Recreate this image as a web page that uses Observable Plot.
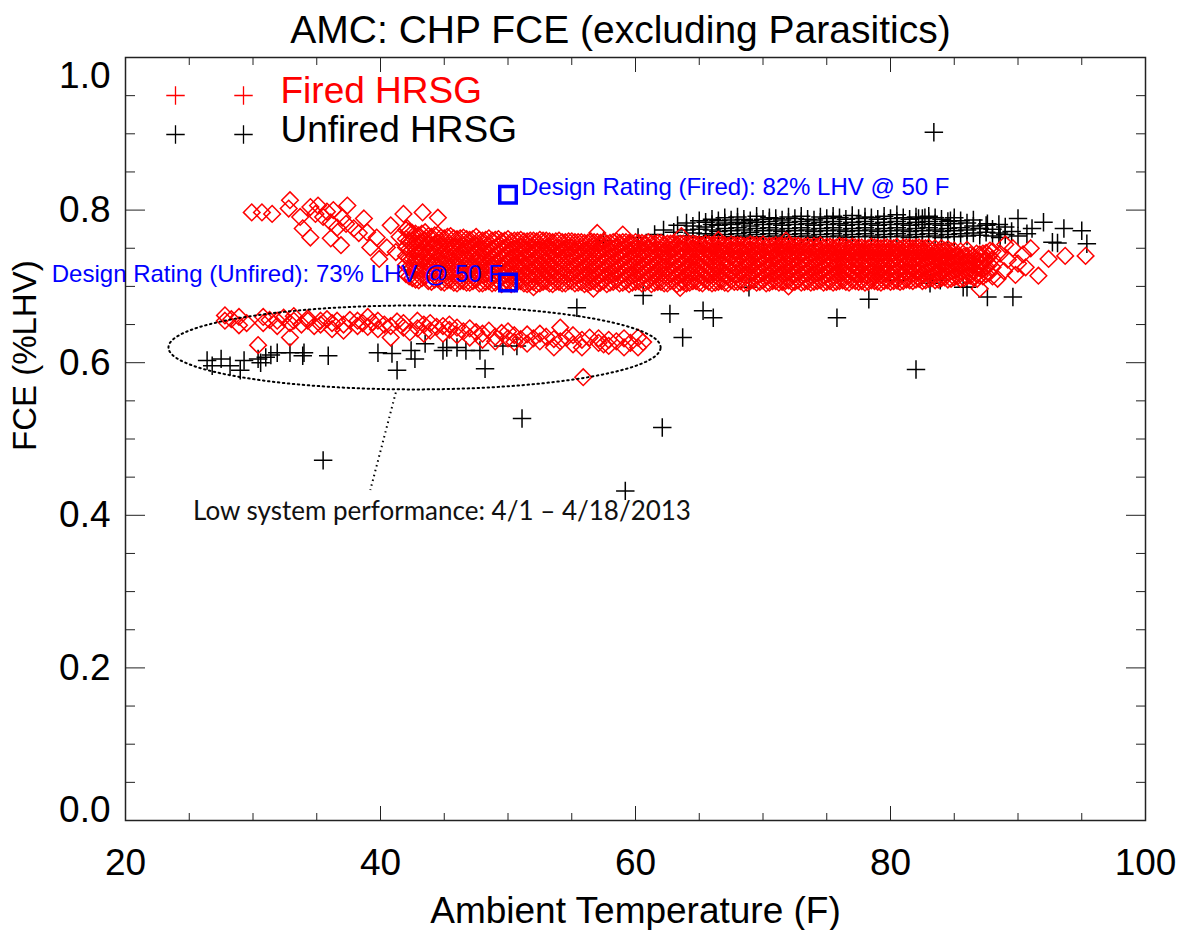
<!DOCTYPE html>
<html><head><meta charset="utf-8">
<script src="https://cdn.jsdelivr.net/npm/d3@7"></script>
<script src="https://cdn.jsdelivr.net/npm/@observablehq/plot@0.6"></script>
<style>body{margin:0;background:#fff}#chart svg{display:block}</style>
</head><body><div id="chart"></div>
<script>
// ---------- axis ticks ----------
const xMajorTicks = [20, 40, 60, 80, 100];
const xMinorTicks = [25, 30, 35, 45, 50, 55, 65, 70, 75, 85, 90, 95];
const yMajorTicks = [0.0, 0.2, 0.4, 0.6, 0.8, 1.0];
const yMinorTicks = [0.05, 0.1, 0.15, 0.25, 0.3, 0.35, 0.45, 0.5, 0.55, 0.65, 0.7, 0.75, 0.85, 0.9, 0.95];

// ---------- text ----------
const titleText = "AMC: CHP FCE (excluding Parasitics)";
const xTitle = "Ambient Temperature (F)";
const yTitle = "FCE (%LHV)";
const seriesNames = ["Fired HRSG", "Unfired HRSG"];
const designTemps = [50, 50];
const designFce = [0.82, 0.705];
const designLabels = ["Design Rating (Fired): 82% LHV @ 50 F", "Design Rating (Unfired): 73% LHV @ 50 F"];
const noteText = "Low system performance: 4/1 \u2013 4/18/2013";
const lowPerfRegion = {temp: 42.67, fce: 0.62, halfTemp: 19.3, halfFce: 0.055};
const noteLeader = {temp1: 41.2, fce1: 0.561, temp2: 39.2, fce2: 0.433};
const noteAnchor = {temp: 25.3, fce: 0.405};

// ---------- Fired HRSG (red diamonds) ----------
// dense main band: [temperature, FCE values...]
const firedBand = [
[42,[.716,.728,.740,.751,.762,.774]],[42.5,[.711,.724,.736,.748,.759,.770]],[43,[.708,.720,.732,.744,.756,.767]],
[43.5,[.713,.725,.737,.749,.760,.771]],[44,[.706,.718,.730,.742,.753,.765]],[44.5,[.710,.722,.734,.745,.757,.768]],
[45,[.705,.717,.729,.740,.752,.763]],[45.5,[.708,.720,.731,.743,.754,.766]],[46,[.704,.716,.728,.739,.751,.762]],
[46.5,[.707,.719,.730,.741,.753,.764]],[47,[.705,.716,.727,.739,.750,.761]],[47.5,[.709,.720,.731,.743,.754,.765]],
[48,[.704,.715,.726,.738,.749,.760]],[48.5,[.707,.718,.729,.741,.752,.763]],[49,[.705,.716,.728,.739,.750,.761]],
[49.5,[.703,.714,.725,.737,.748,.759]],[50,[.706,.717,.729,.740,.751,.762]],[50.5,[.704,.715,.726,.738,.749,.760]],
[51,[.707,.718,.730,.741,.752,.761]],[51.5,[.703,.714,.726,.737,.748,.759]],[52,[.706,.717,.728,.740,.751,.760]],
[52.5,[.704,.715,.727,.738,.749,.761]],[53,[.707,.718,.729,.740,.751,.760]],[53.5,[.703,.714,.725,.737,.748,.758]],
[54,[.706,.717,.728,.739,.750,.760]],[54.5,[.704,.715,.726,.738,.749,.758]],[55,[.707,.718,.729,.740,.751,.759]],
[55.5,[.705,.716,.727,.738,.749,.758]],[56,[.703,.714,.725,.736,.747,.757]],[56.5,[.706,.717,.728,.739,.750,.759]],
[57,[.704,.715,.726,.737,.748,.758]],[57.5,[.707,.718,.729,.740,.750,.759]],[58,[.705,.716,.727,.737,.748,.757]],
[58.5,[.708,.719,.729,.740,.751,.759]],[59,[.705,.716,.727,.738,.748,.758]],[59.5,[.703,.714,.725,.736,.747,.757]],
[60,[.706,.717,.728,.738,.749,.758]],[60.5,[.704,.715,.726,.737,.748,.757]],[61,[.707,.718,.728,.739,.750,.758]],
[61.5,[.705,.716,.726,.737,.747,.756]],[62,[.706,.717,.727,.738,.748,.757]],[62.5,[.704,.715,.725,.736,.747,.756]],
[63,[.707,.718,.729,.739,.749,.757]],[63.5,[.705,.716,.727,.737,.748,.756]],[64,[.704,.715,.726,.736,.746,.755]],
[64.5,[.707,.717,.728,.738,.748,.756]],[65,[.705,.716,.726,.737,.747,.755]],[65.5,[.708,.718,.729,.739,.749,.756]],
[66,[.704,.715,.725,.736,.746,.754]],[66.5,[.706,.717,.727,.738,.748,.755]],[67,[.705,.715,.726,.736,.746,.754]],
[67.5,[.708,.718,.729,.739,.748,.755]],[68,[.706,.716,.727,.737,.747,.754]],[68.5,[.704,.715,.725,.735,.745,.753]],
[69,[.707,.717,.728,.738,.748,.755]],[69.5,[.705,.716,.726,.736,.746,.754]],[70,[.708,.718,.729,.738,.748,.755]],
[70.5,[.705,.715,.725,.735,.745,.753]],[71,[.707,.717,.727,.737,.747,.754]],[71.5,[.706,.716,.726,.736,.746,.753]],
[72,[.708,.718,.728,.738,.748,.754]],[72.5,[.706,.716,.726,.736,.746,.753]],[73,[.705,.715,.725,.735,.745,.752]],
[73.5,[.707,.717,.727,.737,.747,.753]],[74,[.706,.716,.726,.736,.746,.753]],[74.5,[.708,.718,.728,.738,.747,.754]],
[75,[.706,.716,.726,.736,.745,.752]],[75.5,[.705,.715,.725,.735,.744,.751]],[76,[.707,.717,.727,.737,.746,.753]],
[76.5,[.706,.716,.726,.736,.745,.752]],[77,[.708,.718,.728,.737,.746,.752]],[77.5,[.706,.716,.726,.736,.745,.751]],
[78,[.705,.715,.725,.735,.744,.750]],[78.5,[.708,.717,.727,.737,.746,.752]],[79,[.706,.716,.726,.735,.744,.751]],
[79.5,[.707,.717,.727,.736,.745,.751]],[80,[.706,.716,.725,.735,.744,.750]],[80.5,[.708,.718,.727,.737,.746,.752]],
[81,[.707,.716,.726,.736,.745,.751]],[81.5,[.708,.717,.727,.736,.745,.751]],[82,[.709,.719,.728,.737,.746,.751]],
[82.5,[.707,.717,.726,.736,.745,.750]],[83,[.710,.719,.729,.738,.746,.751]],[83.5,[.708,.718,.727,.737,.745,.750]],
[84,[.711,.720,.729,.738,.746,.750]],[84.5,[.709,.719,.728,.737,.745,.749]],[85,[.712,.721,.730,.739,.747]],
[85.5,[.710,.720,.729,.738,.746]],[86,[.713,.722,.731,.740,.748]],[86.5,[.712,.721,.730,.739]],
[87,[.714,.724,.733,.742]],[87.5,[.716,.726,.735,.744]],[88,[.713,.725,.736,.746]]
];
// second pass of readings in the same band (between the columns above)
const firedBandB = [
[42.25,[.713,.725,.737,.749,.760,.772]],[42.75,[.709,.722,.734,.746,.757,.769]],[43.25,[.711,.723,.735,.746,.758,.769]],
[43.75,[.707,.719,.731,.743,.755,.766]],[44.25,[.709,.721,.732,.744,.755,.767]],[44.75,[.706,.718,.730,.741,.753,.764]],
[45.25,[.708,.720,.731,.742,.754,.765]],[45.75,[.705,.717,.729,.740,.752,.763]],[46.25,[.707,.719,.730,.741,.752,.763]],
[46.75,[.705,.716,.728,.739,.751,.762]],[47.25,[.707,.718,.729,.741,.752,.762]],[47.75,[.704,.716,.727,.739,.750,.761]],
[48.25,[.706,.717,.728,.740,.751,.761]],[48.75,[.704,.715,.727,.738,.749,.760]],[49.25,[.707,.718,.729,.741,.752,.762]],
[49.75,[.705,.716,.727,.738,.749,.760]],[50.25,[.703,.715,.726,.737,.748,.759]],[50.75,[.706,.717,.728,.739,.750,.760]],
[51.25,[.704,.716,.727,.738,.749,.759]],[51.75,[.706,.717,.728,.739,.750,.760]],[52.25,[.703,.715,.726,.737,.748,.759]],
[52.75,[.706,.717,.728,.739,.750,.760]],[53.25,[.704,.716,.727,.738,.749,.759]],[53.75,[.706,.717,.728,.739,.750,.759]],
[54.25,[.704,.715,.726,.737,.748,.758]],[54.75,[.707,.718,.729,.739,.750,.759]],[55.25,[.704,.715,.726,.737,.748,.758]],
[55.75,[.706,.717,.728,.739,.749,.758]],[56.25,[.704,.715,.726,.737,.748,.757]],[56.75,[.707,.718,.728,.739,.749,.758]],
[57.25,[.705,.716,.727,.737,.748,.757]],[57.75,[.703,.714,.725,.736,.746,.756]],[58.25,[.706,.717,.728,.738,.749,.758]],
[58.75,[.704,.715,.726,.737,.747,.757]],[59.25,[.707,.718,.728,.739,.749,.758]],[59.75,[.705,.715,.726,.737,.747,.756]],
[60.25,[.707,.718,.728,.739,.749,.757]],[60.75,[.705,.716,.727,.737,.747,.756]],[61.25,[.703,.714,.725,.736,.746,.756]],
[61.75,[.706,.717,.728,.738,.748,.757]],[62.25,[.704,.715,.726,.736,.746,.755]],[62.75,[.707,.717,.728,.738,.748,.756]],
[63.25,[.703,.714,.725,.735,.746,.755]],[63.75,[.706,.717,.727,.738,.748,.756]],[64.25,[.705,.716,.726,.737,.747,.755]],
[64.75,[.707,.717,.728,.738,.748,.755]],[65.25,[.704,.715,.725,.736,.746,.754]],[65.75,[.706,.716,.727,.737,.747,.755]],
[66.25,[.705,.715,.726,.736,.746,.754]],[66.75,[.707,.717,.728,.738,.747,.754]],[67.25,[.704,.714,.725,.735,.745,.753]],
[67.75,[.706,.716,.727,.737,.747,.754]],[68.25,[.707,.717,.728,.738,.747,.754]],[68.75,[.705,.715,.726,.736,.746,.753]],
[69.25,[.708,.718,.728,.738,.747,.754]],[69.75,[.706,.716,.726,.736,.746,.753]],[70.25,[.704,.714,.724,.734,.744,.752]],
[70.75,[.707,.717,.727,.737,.746,.753]],[71.25,[.705,.715,.725,.735,.745,.753]],[71.75,[.707,.717,.727,.737,.746,.753]],
[72.25,[.706,.716,.726,.736,.745,.752]],[72.75,[.708,.718,.727,.737,.746,.753]],[73.25,[.706,.716,.726,.736,.745,.752]],
[73.75,[.705,.715,.725,.735,.744,.751]],[74.25,[.707,.717,.727,.737,.746,.752]],[74.75,[.705,.715,.725,.735,.744,.751]],
[75.25,[.707,.717,.727,.736,.745,.752]],[75.75,[.706,.716,.726,.736,.745,.751]],[76.25,[.708,.718,.727,.737,.746,.752]],
[76.75,[.705,.715,.725,.735,.744,.750]],[77.25,[.707,.717,.726,.736,.745,.751]],[77.75,[.707,.717,.727,.736,.745,.751]],
[78.25,[.706,.716,.726,.735,.744,.750]],[78.75,[.707,.716,.726,.736,.745,.751]],[79.25,[.705,.715,.725,.735,.744,.750]],
[79.75,[.708,.718,.727,.736,.745,.751]],[80.25,[.707,.716,.726,.735,.744,.750]],[80.75,[.706,.716,.725,.735,.744,.749]],
[81.25,[.709,.718,.728,.737,.746,.751]],[81.75,[.707,.717,.726,.736,.745,.750]],[82.25,[.710,.719,.729,.738,.746,.751]],
[82.75,[.708,.718,.727,.737,.745,.750]],[83.25,[.711,.720,.730,.739,.747]],[83.75,[.709,.718,.728,.737,.745]],
[84.25,[.712,.721,.730,.739,.747]],[84.75,[.710,.720,.729,.738,.746]],[85.25,[.713,.722,.731,.740]],
[85.75,[.711,.721,.730,.739]],[86.25,[.714,.723,.732,.741]],[86.75,[.716,.725,.734,.743]],
[87.25,[.713,.723,.733,.743]],[87.75,[.718,.729,.740]]
];
// sparse fired points: cold upper tail, stray points at the band edges, warm right tail
const firedTailTemps = [29.9,30.7,31.5,32.9,32.8,33.7,33.9,34.5,34.5,34.9,35.1,35.5,35.8,36.1,36.1,36.3,36.6,36.9,37.0,37.3,37.4,37.9,38.3,38.7,38.95,39.2,39.7,39.9,40.5,40.8,41.2,41.5,41.8,42.1,43.3,44.5,
  52.0,56.7,63.5,72.0,57.0,59.0,63.6,66.5,71.8,
  86.8,87.0,87.8,88.4,88.6,88.9,89.0,89.2,89.6,89.8,90.0,90.4,90.6,91.0,91.6,92.4,93.7,95.3];
const firedTailFce = [.797,.797,.795,.813,.802,.791,.776,.804,.764,.795,.806,.791,.798,.784,.763,.800,.777,.754,.790,.782,.806,.776,.770,.789,.771,.751,.764,.736,.751,.780,.745,.765,.795,.776,.797,.790,
  .699,.697,.698,.700,.770,.768,.766,.761,.760,
  .710,.697,.747,.710,.743,.720,.755,.735,.750,.715,.730,.742,.725,.750,.714,.736,.740,.740];
// low-performance cluster (April)
const firedLow = [
[27.8,[.662,.655]],[28.3,[.657]],[28.9,[.660,.649]],[29.5,[.652]],[30.4,[.623]],[30.8,[.660,.652]],
[31.3,[.656]],[31.9,[.655,.648]],[32.4,[.659]],[32.9,[.633,.652]],[33.2,[.655,.661]],[33.8,[.650]],
[34.3,[.655,.658]],[34.8,[.648]],[35.3,[.655,.650]],[35.8,[.657]],[36.2,[.652,.644]],[36.6,[.655]],
[37.1,[.642,.650]],[37.6,[.656]],[38.2,[.655,.648]],[38.6,[.652]],[39.0,[.660,.647]],[39.4,[.653]],
[39.8,[.655,.644]],[40.3,[.650]],[40.8,[.633,.648]],[41.3,[.654]],[41.8,[.646,.652]],[42.3,[.640]],
[42.9,[.655,.645]],[43.4,[.650,.638]],[43.9,[.642,.652]],[44.4,[.647]],[44.9,[.638,.648]],[45.4,[.643,.650]],
[46.0,[.646,.636]],[46.5,[.641]],[47.0,[.633,.645]],[47.5,[.640]],[48.0,[.638,.630]],[48.5,[.642]],
[49.0,[.634,.628]],[49.5,[.639]],[50.0,[.632,.641]],[50.5,[.627,.636]],[51.0,[.631]],[51.5,[.637,.625]],
[52.0,[.632]],[52.5,[.628,.638]],[53.0,[.634]],[53.6,[.620,.631]],[54.1,[.646,.628]],[54.6,[.633]],
[55.1,[.624,.636]],[55.8,[.620,.630]],[55.9,[.581]],[56.4,[.633]],[57.1,[.626,.632]],[57.5,[.624]],
[57.9,[.622,.630]],[58.5,[.628]],[59.1,[.620,.632]],[59.6,[.626]],[60.2,[.620,.633]],[60.6,[.627]]
];

// ---------- Unfired HRSG (black pluses) ----------
const unfiredDense = [
[61.5,[.768]],[62.2,[.774]],[63.3,[.780]],
[64,[.766,.774,.783]],[64.5,[.770,.779]],[65,[.765,.775,.786]],[65.5,[.769,.778,.784]],
[66,[.767,.774,.781,.788]],[66.5,[.764,.772,.780,.786]],[67,[.768,.776,.783,.790]],[67.5,[.765,.773,.781,.787]],
[68,[.769,.777,.784,.791]],[68.5,[.766,.774,.782,.788]],[69,[.764,.771,.779,.786]],[69.5,[.768,.776,.784,.792]],
[70,[.765,.773,.781,.788]],[70.5,[.769,.777,.785,.790]],[71,[.766,.774,.782,.789]],[71.5,[.764,.772,.780,.787]],
[72,[.768,.776,.784,.791]],[72.5,[.765,.773,.781,.789]],[73,[.769,.777,.785,.792]],[73.5,[.766,.774,.782,.788]],
[74,[.764,.772,.780,.787]],[74.5,[.768,.776,.784,.791]],[75,[.765,.773,.781,.789]],[75.5,[.769,.777,.785,.792]],
[76,[.766,.774,.782,.790]],[76.5,[.764,.772,.780,.788]],[77,[.768,.776,.784,.793]],[77.5,[.765,.773,.781,.789]],
[78,[.769,.777,.785,.791]],[78.5,[.766,.774,.782,.790]],[79,[.764,.772,.780,.788]],[79.5,[.768,.776,.784,.792]],
[80,[.765,.773,.781,.789]],[80.5,[.769,.777,.785,.794]],[81,[.766,.774,.782,.790]],[81.5,[.764,.772,.780,.788]],
[82,[.768,.776,.784,.791]],[82.5,[.765,.773,.781,.789]],[83,[.769,.777,.785,.792]],[83.5,[.766,.774,.782,.790]],
[84,[.764,.772,.780,.788]],[84.5,[.768,.776,.785]],[85,[.765,.773,.782,.790]],[85.5,[.769,.777,.786]],
[86,[.766,.774,.783]],[86.5,[.770,.779,.787]],[87,[.767,.776]],[87.5,[.771,.780]],[88,[.766,.775]],
[88.5,[.770,.781]],[89,[.768,.778]],[89.5,[.772]],[90,[.766]]
];
const unfiredTemps = [83.4,78.3,82.0,87.6,89.6,86.0,55.4,60.6,62.7,65.3,66.1,63.7,75.8,62.1,59.2,68.9,35.5,51.1,
  80.6,83.1,83.9,85.7,60.2,63.0,57.5,
  90.0,92.0,93.6,95.0,95.4,92.7,90.7,87.6,87.0,88.6,91.1,84.7,82.7,82.2,93.1,
  26.4,26.8,27.5,28.2,29.0,29.3,30.4,30.6,31.0,31.4,31.9,32.9,33.9,34.0,35.9,39.8,40.9,41.3,42.4,42.7,43.5,44.9,45.2,46.0,46.7,47.8,48.2,49.6,50.7];
const unfiredFce = [.902,.683,.591,.686,.686,.699,.672,.688,.664,.668,.659,.633,.659,.515,.432,.699,.472,.527,
  .708,.704,.708,.699,.764,.771,.760,
  .789,.784,.776,.773,.756,.758,.769,.782,.776,.764,.776,.786,.790,.789,.757,
  .603,.596,.605,.596,.590,.603,.605,.600,.607,.610,.613,.613,.609,.613,.609,.613,.612,.590,.616,.605,.625,.616,.620,.620,.616,.616,.592,.622,.622];

// ---------- build tables ----------
const fromColumns = cols => cols.flatMap(([t, ys]) => ys.map(f => ({temp: t, fce: f})));
const fromLists = (ts, fs) => ts.map((t, i) => ({temp: t, fce: fs[i]}));
const fired = [...fromColumns(firedBand), ...fromColumns(firedBandB), ...fromLists(firedTailTemps, firedTailFce), ...fromColumns(firedLow)];
const unfired = [...fromColumns(unfiredDense), ...fromLists(unfiredTemps, unfiredFce)];
const design = fromLists(designTemps, designFce).map((d, i) => ({...d, label: designLabels[i]}));
const ellipse = d3.range(0, 361, 2).map(a => ({
  temp: lowPerfRegion.temp + lowPerfRegion.halfTemp * Math.cos(a * Math.PI / 180),
  fce: lowPerfRegion.fce + lowPerfRegion.halfFce * Math.sin(a * Math.PI / 180)
}));

const FONT = "Liberation Sans, Arial, Helvetica, sans-serif";
const RED = "#ff0000", BLUE = "#0000ff";
const hideText = () => "";

const chart = Plot.plot({
  width: 1188, height: 930,
  marginLeft: 125, marginRight: 43, marginTop: 57, marginBottom: 110,
  x: {domain: [20, 100]},
  y: {domain: [0, 1]},
  style: {fontFamily: FONT, background: "#fff", overflow: "visible"},
  marks: [
    Plot.dot(unfired, {x: "temp", y: "fce", symbol: "plus", r: 6, stroke: "#000", strokeWidth: 1.5}),
    Plot.dot(fired, {x: "temp", y: "fce", symbol: "diamond2", r: 7.5, stroke: RED, strokeWidth: 1.5}),
    Plot.frame({stroke: "#222", strokeWidth: 1.5}),
    Plot.axisX(xMajorTicks, {anchor: "bottom", tickSize: -14, tickFormat: hideText, label: null, stroke: "#222"}),
    Plot.axisX(xMinorTicks, {anchor: "bottom", tickSize: -7, tickFormat: hideText, label: null, stroke: "#222"}),
    Plot.axisX(xMajorTicks, {anchor: "top", tickSize: -14, tickFormat: hideText, label: null, stroke: "#222"}),
    Plot.axisX(xMinorTicks, {anchor: "top", tickSize: -7, tickFormat: hideText, label: null, stroke: "#222"}),
    Plot.axisY(yMajorTicks, {anchor: "left", tickSize: -20, tickFormat: hideText, label: null, stroke: "#222"}),
    Plot.axisY(yMinorTicks, {anchor: "left", tickSize: -10, tickFormat: hideText, label: null, stroke: "#222"}),
    Plot.axisY(yMajorTicks, {anchor: "right", tickSize: -20, tickFormat: hideText, label: null, stroke: "#222"}),
    Plot.axisY(yMinorTicks, {anchor: "right", tickSize: -10, tickFormat: hideText, label: null, stroke: "#222"}),
    // tick labels
    Plot.text(xMajorTicks, {x: d => d, frameAnchor: "bottom", lineAnchor: "middle", dy: 43, text: d => String(d), fontSize: 37, fill: "#000"}),
    Plot.text(yMajorTicks.slice(1, -1), {y: d => d, frameAnchor: "left", lineAnchor: "middle", dx: -15, textAnchor: "end", text: d => d.toFixed(1), fontSize: 37, fill: "#000"}),
    Plot.text(yMajorTicks.slice(-1), {y: d => d, frameAnchor: "left", lineAnchor: "middle", dx: -15, dy: 19, textAnchor: "end", text: d => d.toFixed(1), fontSize: 37, fill: "#000"}),
    Plot.text(yMajorTicks.slice(0, 1), {y: d => d, frameAnchor: "left", lineAnchor: "middle", dx: -15, dy: -10, textAnchor: "end", text: d => d.toFixed(1), fontSize: 37, fill: "#000"}),
    // titles
    Plot.text([titleText], {frameAnchor: "top", lineAnchor: "middle", dx: -15, dy: -27, text: d => d, fontSize: 39, fill: "#000"}),
    Plot.text([xTitle], {frameAnchor: "bottom", lineAnchor: "middle", dy: 91, text: d => d, fontSize: 37, fill: "#000"}),
    Plot.text([yTitle], {frameAnchor: "left", lineAnchor: "middle", dx: -100, dy: 12, rotate: -90, text: d => d, fontSize: 33, fill: "#000"}),
    // legend
    Plot.dot([0], {frameAnchor: "top-left", dx: 50, dy: 38, symbol: "plus", r: 6, stroke: RED, strokeWidth: 1.3}),
    Plot.dot([0], {frameAnchor: "top-left", dx: 118, dy: 38, symbol: "plus", r: 6, stroke: RED, strokeWidth: 1.3}),
    Plot.dot([0], {frameAnchor: "top-left", dx: 50, dy: 77, symbol: "plus", r: 6, stroke: "#000", strokeWidth: 1.3}),
    Plot.dot([0], {frameAnchor: "top-left", dx: 118, dy: 77, symbol: "plus", r: 6, stroke: "#000", strokeWidth: 1.3}),
    Plot.text([seriesNames[0]], {frameAnchor: "top-left", lineAnchor: "middle", dx: 155, dy: 34, textAnchor: "start", text: d => d, fontSize: 37, fill: RED}),
    Plot.text([seriesNames[1]], {frameAnchor: "top-left", lineAnchor: "middle", dx: 155, dy: 73, textAnchor: "start", text: d => d, fontSize: 37, fill: "#000"}),
    // design ratings
    Plot.dot(design, {x: "temp", y: "fce", symbol: "square", r: 9.3, fill: "none", stroke: BLUE, strokeWidth: 3.5}),
    Plot.text(design.slice(0, 1), {x: "temp", y: "fce", text: "label", textAnchor: "start", dx: 13, dy: -8, fontSize: 24, fill: BLUE}),
    Plot.text(design.slice(1), {x: "temp", y: "fce", text: "label", textAnchor: "end", dx: -5, dy: -8, fontSize: 24, fill: BLUE}),
    // low performance annotation
    Plot.line(ellipse, {x: "temp", y: "fce", stroke: "#000", strokeWidth: 2, strokeDasharray: "1.5,3.5"}),
    Plot.link([noteLeader], {x1: "temp1", y1: "fce1", x2: "temp2", y2: "fce2", stroke: "#000", strokeWidth: 2, strokeDasharray: "1.5,3.5"}),
    Plot.text([noteAnchor], {x: "temp", y: "fce", text: () => noteText, textAnchor: "start", fontSize: 26, fontFamily: "Lato, Open Sans, sans-serif", fill: "#111"})
  ]
});
document.getElementById("chart").append(chart);
</script>
</body></html>
